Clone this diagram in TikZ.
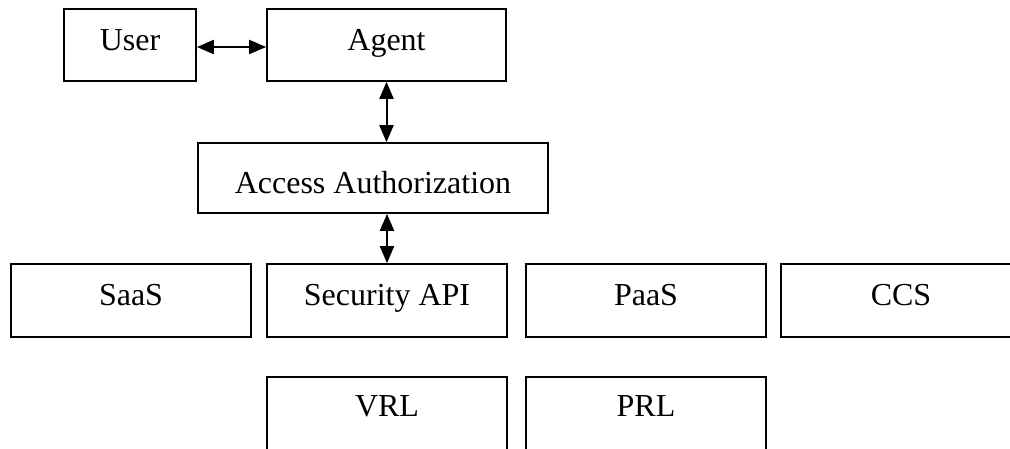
\documentclass[tikz,border=0pt]{standalone}
\usepackage{fontspec}
\setmainfont{Liberation Serif}
\usetikzlibrary{arrows.meta}
\begin{document}
\begin{tikzpicture}[x=1pt,y=-1pt,
  box/.style={draw, line width=1.7pt, inner sep=0pt, font=\fontsize{32}{38}\selectfont, text height=20pt, text depth=10pt},
  rowa/.style={box, minimum height=72pt},
  rowb/.style={box, minimum height=70pt, text height=30pt, text depth=0pt},
  rowc/.style={box, minimum height=73pt, text depth=11pt},
  rowd/.style={box, minimum height=73pt, text depth=14pt},
  link/.style={line width=2pt, {Triangle[length=17pt,width=14pt]}-{Triangle[length=17pt,width=14pt]}}
]
\useasboundingbox (0,0) rectangle (1010,448);
\clip (0,0) rectangle (1010,448);
\node[rowa, minimum width=132pt] (user) at (130,45) {User};
\node[rowa, minimum width=239pt] (agent) at (386.5,45) {Agent};
\node[rowb, minimum width=350pt] (aa) at (373,178) {Access Authorization};
\node[rowc, minimum width=240pt] (saas) at (131,300.5) {SaaS};
\node[rowc, minimum width=240pt] (sec) at (387,300.5) {Security API};
\node[rowc, minimum width=240pt] (paas) at (646,300.5) {PaaS};
\node[rowc, minimum width=240pt] (ccs) at (901,300.5) {CCS};
\node[rowd, minimum width=240pt] (vrl) at (387,413.5) {VRL};
\node[rowd, minimum width=240pt] (prl) at (646,413.5) {PRL};
\draw[link] ([yshift=-2pt]user.east) -- ([yshift=-2pt]agent.west);
\draw[link] (agent.south) -- (agent.south |- aa.north);
\draw[link] (sec.north |- aa.south) -- (sec.north);
\end{tikzpicture}
\end{document}
